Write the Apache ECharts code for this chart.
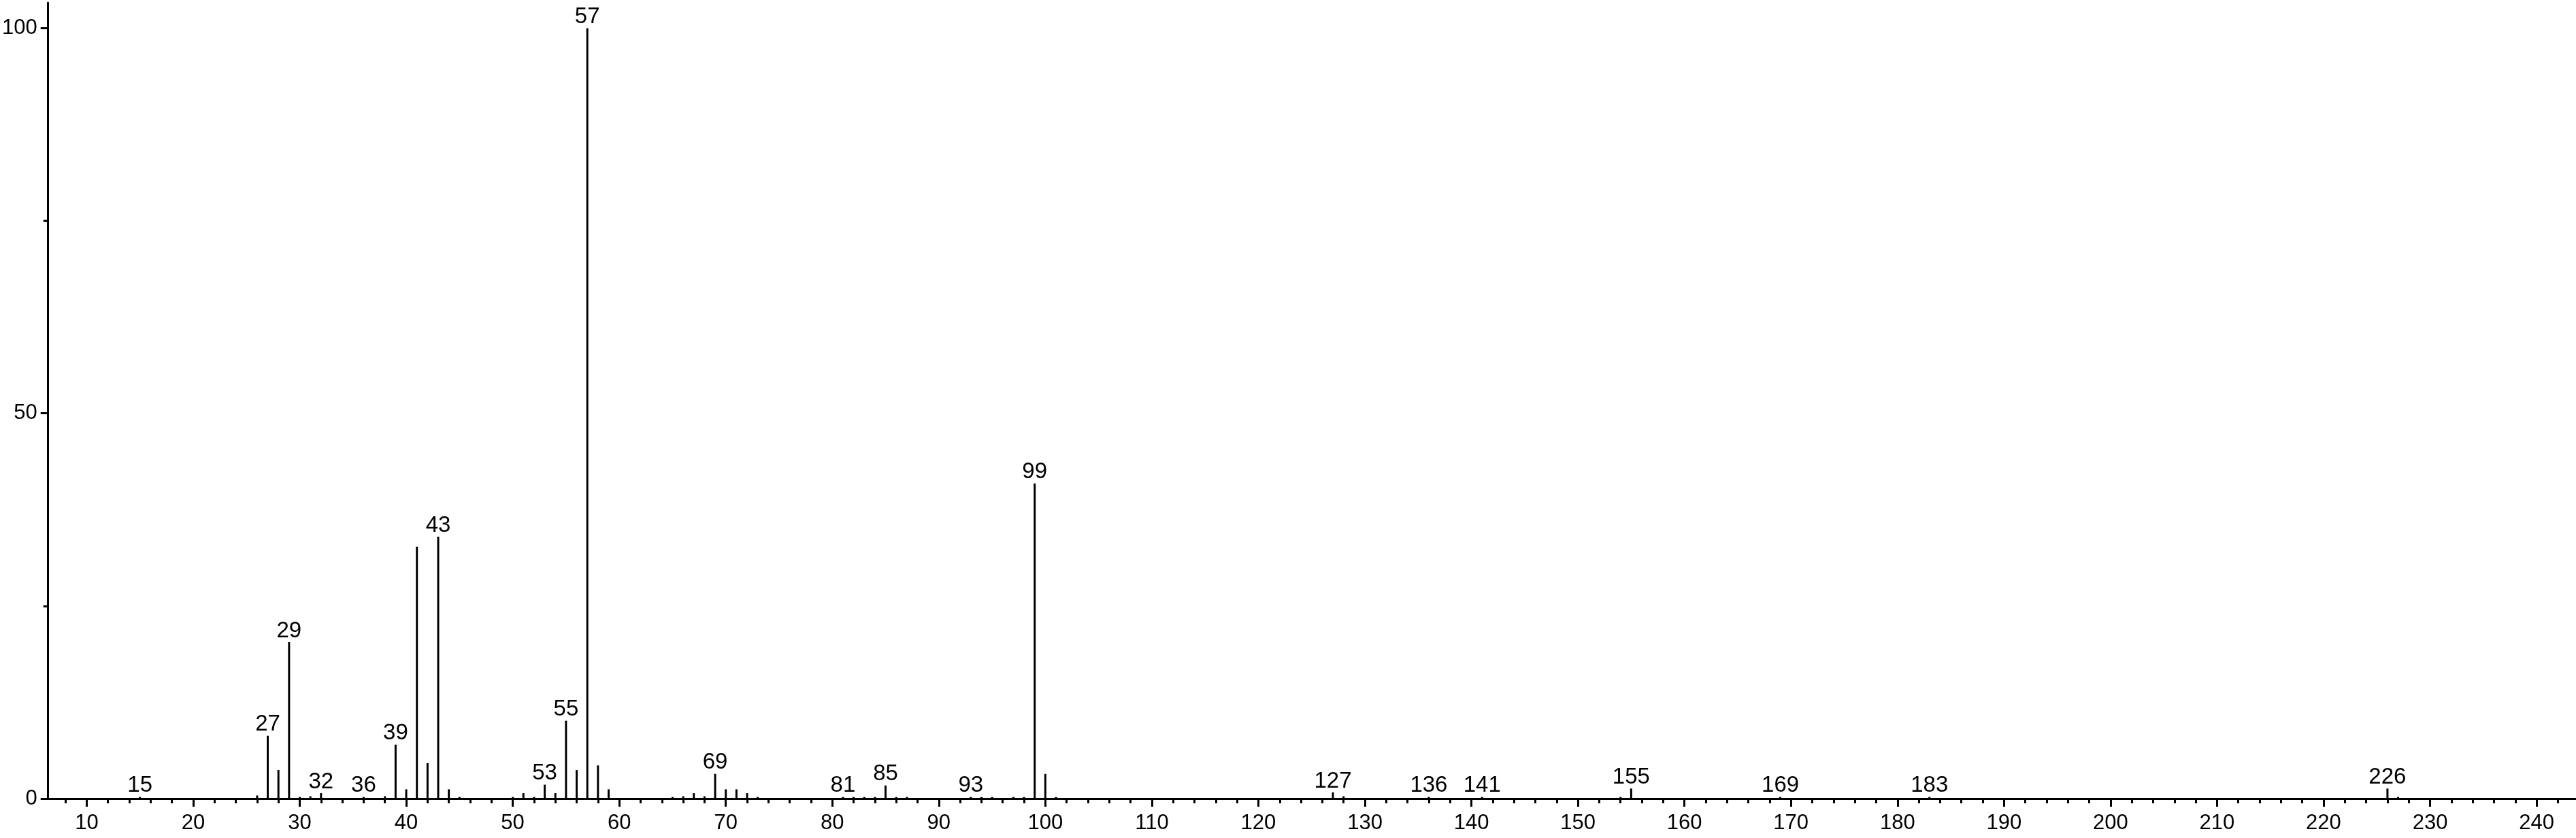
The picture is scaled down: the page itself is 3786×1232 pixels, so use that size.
<!DOCTYPE html>
<html>
<head>
<meta charset="utf-8">
<script src="https://cdn.jsdelivr.net/npm/echarts@6/dist/echarts.min.js"></script>
<style>
html,body{margin:0;padding:0;background:#fff;}
#c{width:3786px;height:1232px;}
</style>
</head>
<body>
<div id="c"></div>
<script>
// m/z values of the peaks
const mzValues = [15,26,27,28,29,30,31,32,36,38,39,40,41,42,43,44,45,50,51,52,53,54,55,56,57,58,59,65,66,67,68,69,70,71,72,73,81,82,83,84,85,86,87,93,94,95,97,98,99,100,101,127,128,136,141,154,155,169,183,226,227];
// relative intensities (%)
const intensities = [0.2,0.4,8.15,3.7,20.3,0.2,0.3,0.7,0.2,0.3,7.0,1.2,32.7,4.6,34.0,1.2,0.2,0.2,0.7,0.2,1.8,0.7,10.1,3.7,100,4.3,1.2,0.2,0.3,0.7,0.3,3.2,1.2,1.2,0.7,0.2,0.2,0.2,0.2,0.2,1.7,0.2,0.2,0.2,0.2,0.2,0.2,0.2,40.9,3.2,0.2,0.8,0.3,0.2,0.2,0.2,1.3,0.2,0.2,1.3,0.2];
// peaks that carry an m/z label
const labeledPeaks = [15,27,29,32,36,39,43,53,55,57,69,81,85,93,99,127,136,141,155,169,183,226];
// axis tick values
const xLabelTicks = [10,20,30,40,50,60,70,80,90,100,110,120,130,140,150,160,170,180,190,200,210,220,230,240];
const xMinorTicks = [8,12,14,16,18,22,24,26,28,32,34,36,38,42,44,46,48,52,54,56,58,62,64,66,68,72,74,76,78,82,84,86,88,92,94,96,98,102,104,106,108,112,114,116,118,122,124,126,128,132,134,136,138,142,144,146,148,152,154,156,158,162,164,166,168,172,174,176,178,182,184,186,188,192,194,196,198,202,204,206,208,212,214,216,218,222,224,226,228,232,234,236,238,242];
const yLabelTicks = [0,50,100];
const yMinorTicks = [25,75];

const FONT = 'Liberation Sans, Arial, Helvetica, sans-serif';
const data = mzValues.map((mz, i) => ({
  value: [mz, intensities[i]],
  label: { show: labeledPeaks.indexOf(mz) >= 0 }
}));

const chart = echarts.init(document.getElementById('c'), null, {renderer: 'canvas'});
const X_MIN = 6.38, X_MAX = 243.7, Y_MAX = 103.3;
chart.setOption({
  animation: false,
  backgroundColor: '#ffffff',
  grid: { left: 69, right: 0, top: 4, bottom: 58, containLabel: false },
  xAxis: [{
    type: 'value', min: X_MIN, max: X_MAX, position: 'bottom',
    axisLine: { show: true, onZero: false, lineStyle: { color: '#000', width: 3 } },
    axisTick: { show: true, customValues: xLabelTicks, length: 12, lineStyle: { color: '#000', width: 3 } },
    axisLabel: { show: true, customValues: xLabelTicks, fontSize: 31, fontFamily: FONT, color: '#000', margin: 21 },
    splitLine: { show: false }
  }, {
    type: 'value', min: X_MIN, max: X_MAX, position: 'bottom', offset: 0,
    axisLine: { show: false },
    axisTick: { show: true, customValues: xMinorTicks, length: 7, lineStyle: { color: '#000', width: 3 } },
    axisLabel: { show: false },
    splitLine: { show: false }
  }],
  yAxis: [{
    type: 'value', min: 0, max: Y_MAX, position: 'left',
    axisLine: { show: true, lineStyle: { color: '#000', width: 3 } },
    axisTick: { show: true, customValues: yLabelTicks, length: 11, lineStyle: { color: '#000', width: 3 } },
    axisLabel: { show: true, customValues: yLabelTicks, fontSize: 31, fontFamily: FONT, color: '#000', margin: 16 },
    splitLine: { show: false }
  }, {
    type: 'value', min: 0, max: Y_MAX, position: 'left', offset: 0,
    axisLine: { show: false },
    axisTick: { show: true, customValues: yMinorTicks, length: 7, lineStyle: { color: '#000', width: 3 } },
    axisLabel: { show: false },
    splitLine: { show: false }
  }],
  series: [{
    type: 'bar',
    xAxisIndex: 0, yAxisIndex: 0,
    barWidth: 3,
    itemStyle: { color: '#000' },
    label: {
      position: 'top', distance: 0, color: '#000', fontSize: 33, fontFamily: FONT,
      formatter: p => String(p.value[0])
    },
    data: data
  }]
});
</script>
</body>
</html>
